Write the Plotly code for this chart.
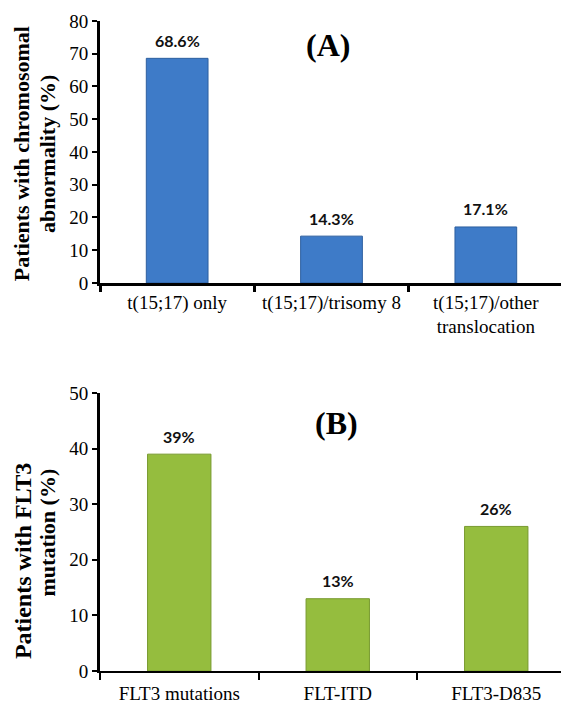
import plotly.graph_objects as go

# ---- data ----
cat_a = ["t(15;17) only", "t(15;17)/trisomy 8", "t(15;17)/other<br>translocation"]
val_a = [68.6, 14.3, 17.1]
lab_a = ["68.6%", "14.3%", "17.1%"]

cat_b = ["FLT3 mutations", "FLT-ITD", "FLT3-D835"]
val_b = [39, 13, 26]
lab_b = ["39%", "13%", "26%"]

SERIF = "Liberation Serif, Times New Roman, serif"
SANS = "Lato, Carlito, Calibri, sans-serif"

fig = go.Figure()

fig.add_trace(go.Bar(
    x=cat_a, y=val_a, xaxis="x", yaxis="y", width=0.40,
    marker=dict(color="#3E7BC8", line=dict(color="#2D5F9F", width=1)),
    showlegend=False, hoverinfo="x+y",
))
fig.add_trace(go.Bar(
    x=cat_b, y=val_b, xaxis="x2", yaxis="y2", width=0.40,
    marker=dict(color="#95BD3E", line=dict(color="#789A2F", width=1)),
    showlegend=False, hoverinfo="x+y",
))

annotations = []
for c, v, t in zip(cat_a, val_a, lab_a):
    annotations.append(dict(x=c, y=v, xref="x", yref="y", text=f"<b>{t}</b>",
                            showarrow=False, yanchor="middle", yshift=18,
                            font=dict(family=SANS, size=16, color="#111111")))
for c, v, t in zip(cat_b, val_b, lab_b):
    annotations.append(dict(x=c, y=v, xref="x2", yref="y2", text=f"<b>{t}</b>",
                            showarrow=False, yanchor="middle", yshift=18,
                            font=dict(family=SANS, size=16, color="#111111")))

# panel letters
annotations.append(dict(x=0.486, y=0.963, xref="paper", yref="paper", text="<b>(A)</b>",
                        showarrow=False, xanchor="center", yanchor="middle",
                        font=dict(family=SERIF, size=32, color="black")))
annotations.append(dict(x=0.505, y=0.3815, xref="paper", yref="paper", text="<b>(B)</b>",
                        showarrow=False, xanchor="center", yanchor="middle",
                        font=dict(family=SERIF, size=32, color="black")))

# y-axis titles (each line separately for tight spacing)
def ytitle(text, x, y, size):
    annotations.append(dict(x=x, y=y, xref="paper", yref="paper", text=f"<b>{text}</b>",
                            showarrow=False, textangle=-90, xanchor="center", yanchor="middle",
                            font=dict(family=SERIF, size=size, color="black")))

ytitle("Patients with chromosomal", -0.166, 0.7954, 22)
ytitle("abnormality (%)", -0.111, 0.7954, 22)
ytitle("Patients with FLT3", -0.164, 0.1692, 24)
ytitle("mutation (%)", -0.112, 0.2138, 22)

tickfont = dict(family=SERIF, size=19, color="black")

# The page body adds an 8px offset; margins compensate so the plot lands
# where the reference puts it (y-axis at x=100, plot top at y=21).
fig.update_layout(
    width=569, height=704, autosize=False,
    margin=dict(l=92, r=8, t=13, b=41),
    paper_bgcolor="white", plot_bgcolor="white",
    bargap=0.6,
    annotations=annotations,
    xaxis=dict(domain=[0, 463 / 469], anchor="y", type="category",
               range=[-0.5, 2.5], showline=True, linewidth=3, linecolor="black",
               ticks="outside", tickson="boundaries", ticklen=6, tickwidth=3, tickcolor="black",
               tickangle=0,
               showgrid=False, zeroline=False, tickfont=tickfont, automargin=False),
    yaxis=dict(domain=[0.597, 1.0], anchor="x", range=[0, 80], dtick=10,
               showline=True, linewidth=3, linecolor="black",
               ticks="outside", ticklen=5, tickwidth=2, tickcolor="black",
               showgrid=False, zeroline=False, tickfont=tickfont, automargin=False),
    xaxis2=dict(domain=[0, 1.0], anchor="y2", type="category",
                range=[-0.5, -0.5 + 469 / 158.5], showline=True, linewidth=2, linecolor="black",
                ticks="outside", tickson="boundaries", ticklen=7, tickwidth=1.5, tickcolor="black",
                tickangle=0,
                showgrid=False, zeroline=False, tickfont=tickfont, automargin=False,
                ticklabelstandoff=4),
    yaxis2=dict(domain=[0, 0.4277], anchor="x2", range=[0, 50], dtick=10,
                showline=True, linewidth=3, linecolor="black",
                ticks="outside", ticklen=5, tickwidth=2, tickcolor="black",
                showgrid=False, zeroline=False, tickfont=tickfont, automargin=False),
)

fig.write_html("out.html")
